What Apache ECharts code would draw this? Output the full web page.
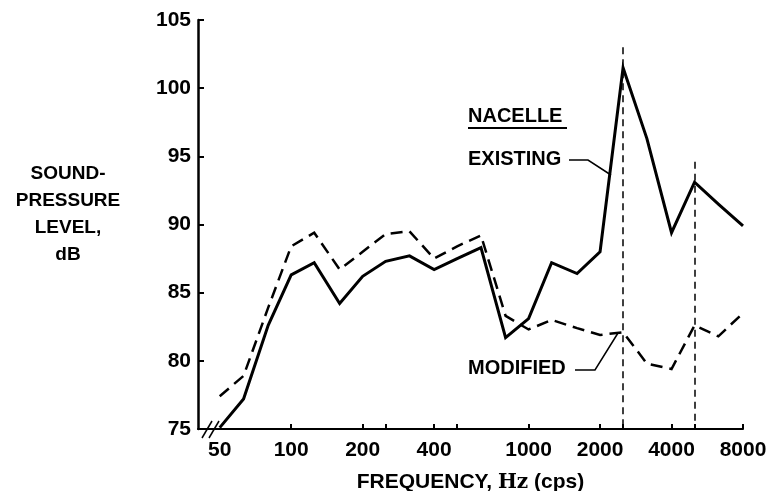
<!DOCTYPE html>
<html>
<head>
<meta charset="utf-8">
<title>Nacelle sound-pressure level</title>
<script src="https://cdn.jsdelivr.net/npm/echarts@6/dist/echarts.min.js"></script>
<style>
  html, body { margin: 0; padding: 0; background: #fff; }
  #chart { width: 775px; height: 491px; }
</style>
</head>
<body>
<div id="chart"></div>
<script>
// third-octave band centre frequencies, Hz
var freqs = [50, 63, 80, 100, 125, 160, 200, 250, 315, 400, 500, 630,
             800, 1000, 1250, 1600, 2000, 2500, 3150, 4000, 5000, 6300, 8000];
// sound-pressure level, dB
var existing = [75.1, 77.2, 82.6, 86.3, 87.2, 84.2, 86.2, 87.3, 87.7, 86.7, 87.5, 88.3,
                81.7, 83.1, 87.2, 86.4, 88.0, 101.5, 96.3, 89.4, 93.1, 91.5, 89.9];
var modified = [77.4, 78.9, 83.9, 88.4, 89.4, 86.7, 88.0, 89.3, 89.5, 87.5, 88.4, 89.2,
                83.3, 82.3, 83.0, 82.4, 81.9, 82.1, 79.8, 79.4, 82.6, 81.8, 83.5];

var freqLabels = [50, 100, 200, 400, 1000, 2000, 4000, 8000];
var freqTicks = [100, 200, 250, 400, 500, 1000, 2000, 2500, 4000, 5000, 8000];

// vertical reference lines (tones)
var refFreqs = [2500, 5000];
var refTops = [103, 94.6];

var font = 'Liberation Sans';
var chart = echarts.init(document.getElementById('chart'), null, { renderer: 'canvas' });

function pairs(ys) {
  return freqs.map(function (f, i) { return [f, ys[i]]; });
}

var refLines = refFreqs.map(function (f, i) {
  return [{ coord: [f, refTops[i]] }, { coord: [f, 75] }];
});

var option = {
  backgroundColor: '#fff',
  animation: false,
  grid: { left: 198, right: 32, top: 20, bottom: 62, outerBoundsMode: 'none', containLabel: false },
  xAxis: {
    type: 'log',
    logBase: 2,
    min: 40.5,
    max: 8000,
    name: 'FREQUENCY, {hz|Hz} (cps)',
    nameLocation: 'middle',
    nameGap: 43,
    nameTextStyle: {
      color: '#000', fontFamily: font, fontWeight: 'bold', fontSize: 21,
      rich: { hz: { fontFamily: 'DejaVu Serif', fontWeight: 'bold', fontSize: 20, color: '#000' } }
    },
    axisLine: { lineStyle: { color: '#000', width: 2 } },
    axisTick: { inside: true, length: 5, lineStyle: { color: '#000', width: 2 }, customValues: freqTicks },
    axisLabel: {
      customValues: freqLabels,
      formatter: function (v) { return String(Math.round(v)); },
      color: '#000', fontFamily: font, fontWeight: 'bold', fontSize: 21, margin: 11
    },
    splitLine: { show: false }
  },
  yAxis: {
    type: 'value',
    min: 75,
    max: 105,
    interval: 5,
    axisLine: { show: true, lineStyle: { color: '#000', width: 2.5 } },
    axisTick: { show: true, inside: true, length: 6, lineStyle: { color: '#000', width: 2 } },
    axisLabel: { color: '#000', fontFamily: font, fontWeight: 'bold', fontSize: 21, margin: 7 },
    splitLine: { show: false }
  },
  series: [
    {
      name: 'EXISTING',
      type: 'line',
      data: pairs(existing),
      showSymbol: false,
      lineStyle: { color: '#000', width: 3, join: 'miter' },
      z: 3
    },
    {
      name: 'MODIFIED',
      type: 'line',
      data: pairs(modified),
      showSymbol: false,
      lineStyle: { color: '#000', width: 2.5, type: [12, 7], join: 'miter' },
      markLine: {
        silent: true,
        symbol: 'none',
        label: { show: false },
        lineStyle: { color: '#000', width: 1.5, type: [7, 5] },
        data: refLines
      },
      z: 2
    }
  ],
  graphic: [
    {
      type: 'text', x: 68, y: 160,
      style: {
        text: 'SOUND-\nPRESSURE\nLEVEL,\ndB', align: 'center', verticalAlign: 'top',
        lineHeight: 27,
        font: 'bold 19px "Liberation Sans"', fill: '#000'
      }
    },
    {
      type: 'text', left: 468, top: 106,
      style: { text: 'NACELLE', font: 'bold 20px "Liberation Sans"', fill: '#000' }
    },
    {
      type: 'line', shape: { x1: 468, y1: 128, x2: 567, y2: 128 },
      style: { stroke: '#000', lineWidth: 2 }
    },
    {
      type: 'text', left: 468, top: 149,
      style: { text: 'EXISTING', font: 'bold 20px "Liberation Sans"', fill: '#000' }
    },
    {
      type: 'polyline', shape: { points: [[569, 160], [588, 160], [611, 175]] },
      style: { stroke: '#000', lineWidth: 1.5, fill: null }
    },
    {
      type: 'text', left: 468, top: 358,
      style: { text: 'MODIFIED', font: 'bold 20px "Liberation Sans"', fill: '#000' }
    },
    {
      type: 'polyline', shape: { points: [[575, 370], [595, 370], [618, 333]] },
      style: { stroke: '#000', lineWidth: 1.5, fill: null }
    },
    // axis break mark
    {
      type: 'line', shape: { x1: 202, y1: 438, x2: 212, y2: 421 },
      style: { stroke: '#000', lineWidth: 1.5 }
    },
    {
      type: 'line', shape: { x1: 209, y1: 438, x2: 219, y2: 421 },
      style: { stroke: '#000', lineWidth: 1.5 }
    }
  ]
};

chart.setOption(option);
</script>
</body>
</html>
